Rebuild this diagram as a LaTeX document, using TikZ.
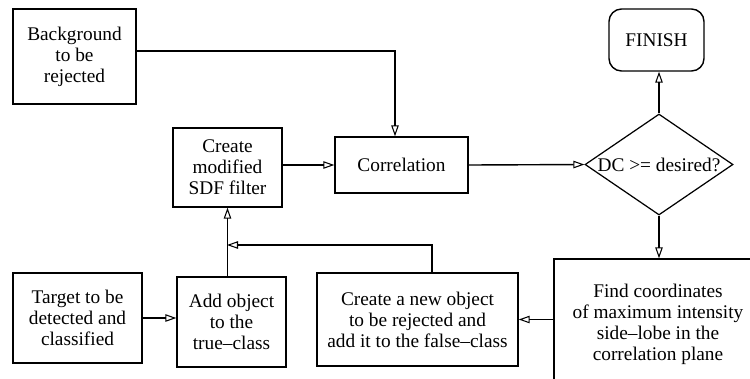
\documentclass[tikz,border=0pt]{standalone}
\usepackage{fontspec}
\setmainfont{Liberation Serif}
\usepackage{tikz}
\usetikzlibrary{shapes.geometric, arrows.meta}
\tikzstyle{process} = [rectangle, line width=0.8pt, align=center, text centered, draw=black, font=\rmfamily\fontsize{11}{12}\selectfont]
\tikzstyle{decision} = [diamond, line width=0.7pt, aspect=1.47, inner sep=0pt, text centered, draw=black, font=\rmfamily\fontsize{11}{12}\selectfont]
\tikzstyle{arrow} = [line width=0.8pt,->,>={Triangle[open,length=2.2mm,width=1.5mm,line width=0.6pt]}]

\begin{document}
\begin{tikzpicture}[x=0.2mm, y=-0.2mm]
                    \useasboundingbox (0,0) rectangle (750,378);
                    \node (background) [process, minimum width=24.6mm, minimum height=19mm] at (74.5,56.5) {Background\\to be\\rejected};
                    \node (sdf) [process, minimum width=21.8mm, minimum height=15.8mm] at (227.5,167.5) {Create\\modified\\SDF filter};
                    \node (correlation) [process, minimum width=26.6mm, minimum height=11.2mm] at (401.5,165) {Correlation};
                    \node (finish) [process, rounded corners=2.5mm, minimum width=19mm, minimum height=12.4mm] at (656.5,40) {FINISH};
                    \node (dc) [decision, minimum width=29.6mm, minimum height=20.2mm] at (659,164.5) {DC >= desired?};
                    \node (findsl) [process, minimum width=41.6mm, minimum height=26mm] at (658,324) {Find coordinates\\of maximum intensity\\side--lobe in the\\correlation plane};
                    \node (newobj) [process, minimum width=40.2mm, minimum height=18.6mm] at (417.5,319.5) {Create a new object\\to be rejected and\\add it to the false--class};
                    \node (target) [process, minimum width=25.8mm, minimum height=18mm] at (77.5,318) {Target to be\\detected and\\classified};
                    \node (addobj) [process, minimum width=21.8mm, minimum height=18mm] at (231.5,322) {Add object\\to the\\true--class};
                    \coordinate (join) at (227,245);

                    \draw [arrow] ([yshift=1.1mm]background.east) -| ([xshift=-1.3mm]correlation.north);
                    \draw [arrow] (sdf.east |- correlation.west) -- (correlation.west);
                    \draw [arrow] (correlation.east) -- (dc.west);
                    \draw [arrow] (dc.north) -- (dc.north |- finish.south);
                    \draw [arrow] (dc.south) -- (dc.south |- findsl.north);
                    \draw [arrow] (findsl.west |- newobj.east) -- (newobj.east);
                    \draw [arrow] ([xshift=2.9mm]newobj.north) |- (join);
                    \draw [arrow] (sdf.south |- addobj.north) -- (sdf.south);
                    \draw [arrow] (target.east) -- (target.east -| addobj.west);
                \end{tikzpicture}
\end{document}
